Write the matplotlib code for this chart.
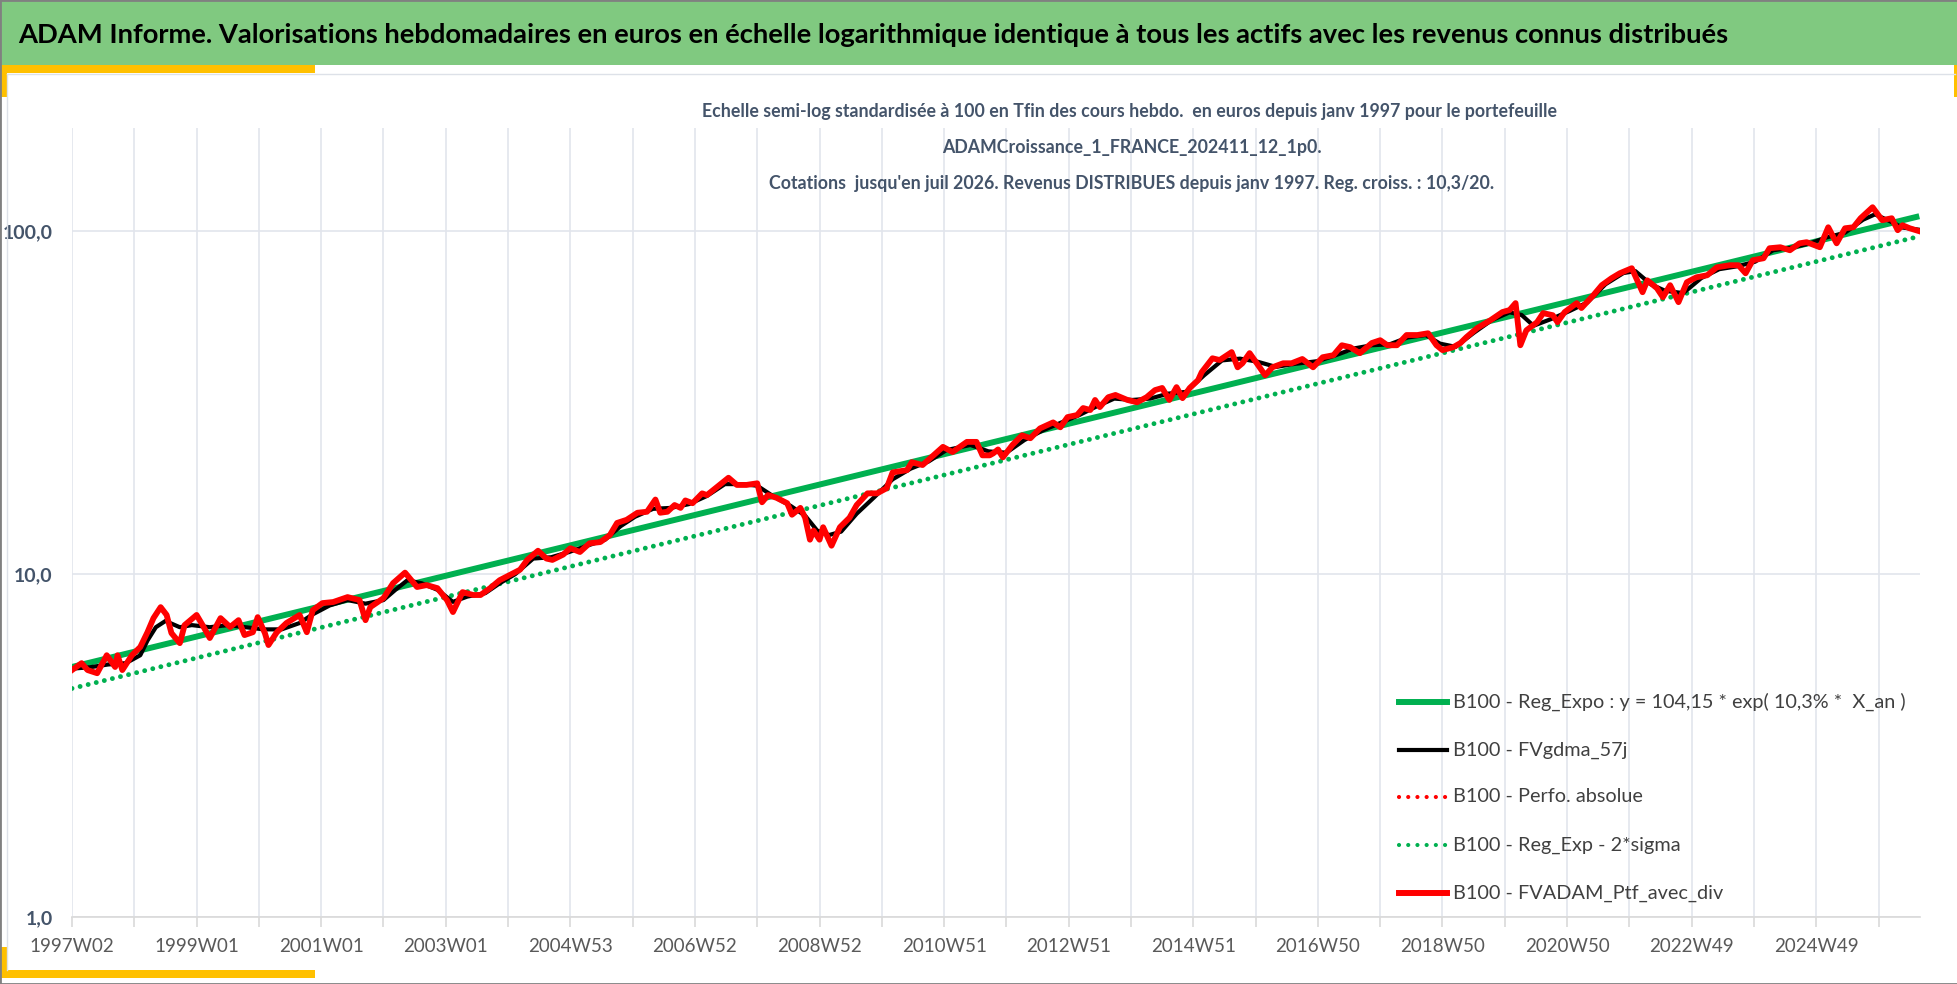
import matplotlib
matplotlib.use('Agg')
import matplotlib.pyplot as plt
from matplotlib.lines import Line2D
from matplotlib.patches import Rectangle
from matplotlib.ticker import NullLocator

# weekly points, x = week number since 1997W02
red_idx = [0, 8, 13, 21, 29, 36, 38, 42, 50, 57,
           63, 68, 74, 79, 83, 90, 94, 104, 109, 115,
           124, 132, 139, 144, 151, 155, 161, 164, 171, 179,
           190, 196, 201, 209, 218, 230, 240, 245, 249, 260,
           268, 278, 288, 296, 305, 313, 318, 326, 335, 341,
           349, 357, 374, 380, 389, 396, 401, 410, 416, 424,
           432, 441, 449, 455, 463, 472, 480, 487, 491, 497,
           503, 508, 512, 518, 526, 530, 538, 548, 555, 563,
           572, 576, 581, 588, 597, 601, 608, 612, 616, 619,
           624, 627, 634, 641, 649, 655, 664, 672, 680, 685,
           697, 701, 710, 719, 727, 735, 747, 755, 760, 766,
           769, 773, 777, 785, 793, 800, 808, 819, 825, 831,
           839, 844, 850, 854, 858, 865, 871, 881, 889, 897,
           904, 910, 916, 922, 927, 933, 940, 943, 952, 958,
           968, 973, 977, 983, 989, 996, 1002, 1011, 1018, 1027,
           1036, 1044, 1053, 1060, 1067, 1075, 1085, 1092, 1098, 1106,
           1114, 1123, 1132, 1139, 1144, 1153, 1159, 1164, 1173, 1184,
           1194, 1200, 1205, 1209, 1214, 1223, 1228, 1236, 1240, 1246,
           1256, 1260, 1270, 1277, 1285, 1292, 1302, 1311, 1315, 1323,
           1328, 1334, 1341, 1348, 1356, 1365, 1373, 1384, 1391, 1397,
           1403, 1412, 1417, 1426, 1434, 1442, 1448, 1459, 1466, 1473,
           1480, 1487, 1493, 1503, 1511, 1519, 1524, 1528, 1534, 1542]
red_val = [5.25, 5.50, 5.25, 5.14, 5.80, 5.36, 5.80, 5.25, 5.80, 6.13,
           6.77, 7.44, 8.01, 7.60, 6.73, 6.29, 7.10, 7.60, 7.10, 6.51,
           7.44, 7.01, 7.34, 6.64, 6.77, 7.49, 6.73, 6.21, 6.77, 7.20,
           7.60, 6.77, 7.85, 8.23, 8.29, 8.57, 8.40, 7.34, 8.01, 8.51,
           9.41, 10.1, 9.17, 9.29, 9.10, 8.40, 7.75, 8.86, 8.69, 8.69,
           9.10, 9.60, 10.3, 11.0, 11.7, 11.1, 11.0, 11.4, 11.9, 11.6,
           12.3, 12.4, 13.0, 14.1, 14.4, 15.1, 15.2, 16.5, 15.1, 15.2,
           15.9, 15.6, 16.4, 16.1, 17.2, 17.0, 17.9, 19.1, 18.2, 18.2,
           18.4, 16.2, 17.0, 16.7, 16.1, 14.9, 15.6, 14.6, 12.6, 13.4,
           12.6, 13.7, 12.1, 13.7, 14.6, 15.9, 17.2, 17.2, 17.8, 19.8,
           20.1, 21.2, 20.8, 22.2, 23.5, 22.7, 24.3, 24.3, 22.2, 22.2,
           22.5, 23.1, 21.9, 23.8, 25.4, 24.9, 26.6, 27.7, 26.8, 28.7,
           29.1, 30.5, 30.1, 32.2, 30.7, 32.8, 33.3, 32.2, 31.7, 32.8,
           34.4, 34.9, 32.2, 35.1, 32.6, 34.9, 36.8, 38.8, 42.6, 42.1,
           44.4, 40.1, 41.2, 44.1, 41.2, 38.0, 40.1, 41.2, 41.2, 42.4,
           40.1, 42.9, 43.5, 46.5, 45.9, 44.1, 47.2, 48.1, 46.5, 46.5,
           49.8, 49.8, 50.4, 46.5, 45.0, 45.9, 47.2, 49.1, 52.2, 55.0,
           58.1, 58.9, 61.7, 46.5, 51.4, 54.3, 57.7, 56.9, 54.3, 58.1,
           61.7, 59.7, 65.1, 69.6, 72.9, 75.4, 78.0, 66.4, 71.9, 68.2,
           64.2, 69.6, 62.1, 71.0, 73.4, 74.4, 78.5, 79.6, 79.6, 75.4,
           82.3, 83.4, 89.2, 89.8, 88.0, 92.2, 92.9, 89.8, 102.7, 92.2,
           102.0, 102.7, 109.1, 117.5, 107.7, 109.1, 100.7, 104.1, 102.0, 100.0]

# moyenne mobile (FVgdma_57j)
black_idx = [0, 15, 30, 45, 57, 63, 70, 78, 90, 100,
             115, 130, 145, 160, 175, 190, 200, 215, 230, 245,
             260, 270, 280, 292, 305, 318, 330, 345, 357, 370,
             385, 400, 415, 430, 445, 458, 470, 485, 500, 515,
             530, 545, 560, 572, 585, 600, 612, 622, 632, 642,
             655, 670, 685, 700, 715, 730, 750, 765, 780, 795,
             810, 825, 840, 855, 870, 885, 900, 915, 930, 945,
             960, 975, 990, 1005, 1020, 1040, 1055, 1070, 1085, 1100,
             1115, 1130, 1142, 1155, 1170, 1185, 1200, 1210, 1220, 1235,
             1250, 1265, 1280, 1295, 1305, 1318, 1330, 1345, 1360, 1375,
             1390, 1405, 1420, 1435, 1450, 1465, 1480, 1495, 1505, 1515,
             1528, 1542]
black_val = [5.3, 5.35, 5.45, 5.5, 5.8, 6.4, 7.0, 7.3, 7.0, 7.1,
             7.0, 7.1, 7.0, 6.9, 6.9, 7.2, 7.6, 8.1, 8.4, 8.2,
             8.4, 9.0, 9.6, 9.4, 9.0, 8.3, 8.6, 8.8, 9.4, 10.0,
             11.1, 11.2, 11.6, 12.1, 12.6, 13.8, 14.7, 15.5, 15.6, 16.0,
             16.9, 18.3, 18.3, 18.1, 16.9, 15.8, 14.8, 13.4, 13.0, 13.3,
             15.0, 16.8, 18.9, 20.3, 21.3, 23.0, 23.8, 22.8, 22.6, 24.6,
             26.2, 27.6, 29.0, 30.8, 32.5, 32.2, 32.5, 33.6, 34.0, 38.0,
             42.0, 42.5, 41.6, 40.2, 41.0, 41.8, 43.5, 45.5, 46.5, 46.8,
             49.0, 49.8, 47.0, 46.0, 50.5, 55.0, 58.0, 57.0, 53.0, 55.5,
             58.5, 62.0, 70.0, 75.5, 76.5, 70.0, 67.0, 66.0, 73.0, 77.5,
             79.0, 81.5, 88.0, 89.5, 92.0, 96.0, 99.0, 108.0, 112.0, 108.0,
             102.5, 101.0]

# regression line and regression - 2 sigma (straight lines on the log scale)
reg_idx = [0, 1542]
reg_val = [5.36, 110.6]
sig_val = [4.64, 96.6]

week_labels = ['1997W02', '1999W01', '2001W01', '2003W01', '2004W53', '2006W52',
               '2008W52', '2010W51', '2012W51', '2014W51', '2016W50', '2018W50',
               '2020W50', '2022W49', '2024W49']

legend_labels = ['B100 - Reg_Expo : y = 104,15 * exp( 10,3% *  X_an )',
                 'B100 - FVgdma_57j',
                 'B100 - Perfo. absolue',
                 'B100 - Reg_Exp - 2*sigma',
                 'B100 - FVADAM_Ptf_avec_div']

title_lines = ['Echelle semi-log standardisée à 100 en Tfin des cours hebdo.  en euros depuis janv 1997 pour le portefeuille',
               'ADAMCroissance_1_FRANCE_202411_12_1p0.',
               "Cotations  jusqu'en juil 2026. Revenus DISTRIBUES depuis janv 1997. Reg. croiss. : 10,3/20."]
header = ('ADAM Informe. Valorisations hebdomadaires en euros en échelle logarithmique '
          'identique à tous les actifs avec les revenus connus distribués')

GREEN = '#00B050'
RED = '#FF0000'
plt.rcParams['font.family'] = ['Lato', 'DejaVu Sans']

W, H = 1958, 984
fig = plt.figure(figsize=(W / 100, H / 100), dpi=100)


def fx(px):
    return px / W


def fy(py):
    return 1 - py / H


def fit(t, width):
    r = fig.canvas.get_renderer()
    w = t.get_window_extent(r).width
    t.set_fontsize(t.get_fontsize() * width / w)
    return t.get_fontsize()


# frame decorations
def box(x0, y0, x1, y1, color):
    fig.patches.append(Rectangle((fx(x0), fy(y1)), (x1 - x0) / W, (y1 - y0) / H,
                                 transform=fig.transFigure, color=color, lw=0, zorder=0))


box(0, 0, W, 65, '#80C980')
box(0, 65, 315, 73, '#FFC000')
box(0, 73, 7, 97, '#FFC000')
box(0, 970, 315, 978, '#FFC000')
box(0, 947, 7, 978, '#FFC000')
box(1954, 65, W, 97, '#FFC000')
fig.add_artist(Line2D([fx(7), fx(1955)], [fy(74), fy(74)], color='#DDE1E8', lw=1))
fig.add_artist(Line2D([fx(7), fx(7)], [fy(74), fy(970)], color='#DDE1E8', lw=1))
fig.add_artist(Rectangle((0, 0), 1, 1, transform=fig.transFigure, fill=False,
                         edgecolor='#808080', lw=2))

t = fig.text(fx(18), fy(35), header, ha='left', va='center', fontsize=20,
             fontweight='bold', color='black')
fit(t, 1710)

t1 = fig.text(fx(1129), fy(112), title_lines[0], ha='center', va='center', fontsize=16,
              fontweight='bold', color='#44546A')
fs = fit(t1, 850)
for line, ypx in zip(title_lines[1:], [147, 183]):
    fig.text(fx(1132), fy(ypx), line, ha='center', va='center', fontsize=fs,
             fontweight='bold', color='#44546A')

ax = fig.add_axes([fx(72), fy(917), (1920 - 72) / W, (917 - 128) / H])
ax.set_yscale('log')

ax.plot(reg_idx, sig_val, color=GREEN, lw=3.5, ls=(0, (0.01, 1.7)),
        dash_capstyle='round', zorder=2)
ax.plot(red_idx, red_val, color=RED, lw=3, ls=(0, (0.01, 2)),
        dash_capstyle='round', zorder=2)
ax.plot(reg_idx, reg_val, color=GREEN, lw=4.3, solid_capstyle='butt', zorder=3)
ax.plot(black_idx, black_val, color='black', lw=3, zorder=4)
ax.plot(red_idx, red_val, color=RED, lw=4.2, zorder=5)

ax.set_xlim(0, 1542.6)
ax.set_ylim(1, 200)
ax.set_yticks([1, 10, 100])
ax.set_yticklabels(['1,0', '10,0', '100,0'])
ax.yaxis.set_minor_locator(NullLocator())
grid_ticks = list(range(0, 1543, 52))
ax.set_xticks(grid_ticks)
ax.set_xticklabels([week_labels[i // 2] if i % 2 == 0 else '' for i in range(len(grid_ticks))])

ax.grid(True, color='#E2E5EC', lw=1.2)
ax.set_axisbelow(True)
for s in ['top', 'right', 'left']:
    ax.spines[s].set_visible(False)
ax.spines['bottom'].set_color('#D9D9D9')
ax.spines['bottom'].set_linewidth(1.2)
ax.tick_params(axis='x', length=7, color='#D9D9D9', width=1.2, pad=8,
               labelsize=13.5, labelcolor='#595959')
ax.tick_params(axis='y', length=0, pad=14, labelsize=14, labelcolor='#44546A')
for lb in ax.get_yticklabels():
    lb.set_fontweight('bold')

# legend
styles = [dict(color=GREEN, lw=4.3),
          dict(color='black', lw=3),
          dict(color=RED, lw=3, ls=(0, (0.01, 2.2)), dash_capstyle='round'),
          dict(color=GREEN, lw=3, ls=(0, (0.01, 2.2)), dash_capstyle='round'),
          dict(color=RED, lw=4.3)]
rows = [702, 750, 797, 845, 893]
lfs = None
for lab, st, ypx in zip(legend_labels, styles, rows):
    fig.add_artist(Line2D([fx(1399), fx(1447)], [fy(ypx), fy(ypx)], **st))
    tt = fig.text(fx(1453), fy(ypx), lab, ha='left', va='center', fontsize=15,
                  color='#404040')
    if lfs is None:
        lfs = fit(tt, 455)
    else:
        tt.set_fontsize(lfs)

fig.savefig('out.png', dpi=100)
